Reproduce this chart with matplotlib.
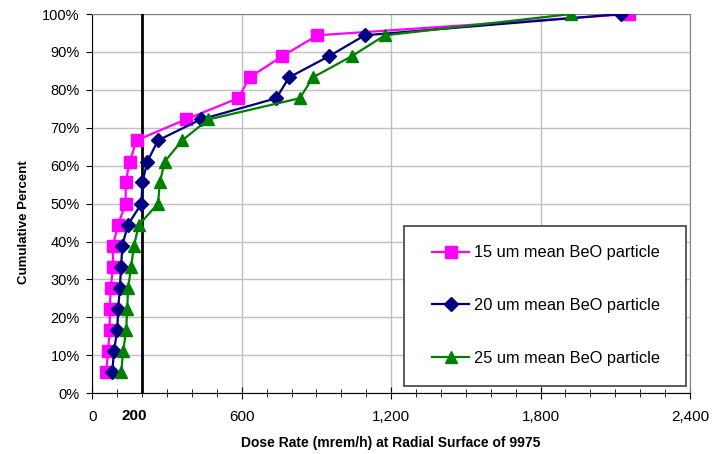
import matplotlib
matplotlib.use('Agg')
import matplotlib.pyplot as plt
from matplotlib.ticker import FuncFormatter, MultipleLocator
from matplotlib.patches import Rectangle
import matplotlib.transforms as mtransforms

plt.rcParams['font.family'] = ['Liberation Sans', 'DejaVu Sans']

# cumulative percent (k/18)
pct = [5.6, 11.1, 16.7, 22.2, 27.8, 33.3, 38.9, 44.4, 50.0,
       55.6, 61.1, 66.7, 72.2, 77.8, 83.3, 88.9, 94.4, 100.0]

# dose rates (mrem/h)
dose_15 = [56, 63, 70, 70, 74, 83, 83, 103, 134,
           134, 150, 178, 375, 586, 632, 763, 904, 2155]
dose_20 = [80, 87, 100, 104, 110, 116, 120, 143, 197,
           201, 221, 264, 435, 739, 790, 951, 1094, 2122]
dose_25 = [116, 124, 136, 140, 144, 156, 167, 187, 264,
           271, 291, 361, 466, 833, 886, 1042, 1175, 1922]

labels = ['15 um mean BeO particle', '20 um mean BeO particle',
          '25 um mean BeO particle']
limit = 200

fig = plt.figure(figsize=(7.27, 4.54), dpi=100)
ax = fig.add_axes([0.127, 0.134, 0.822, 0.835])

frac = [p / 100 for p in pct]
ax.plot(dose_15, frac, color='#FF00FF', marker='s',
        markersize=8, lw=1.6, label=labels[0], zorder=5)
ax.plot(dose_20, frac, color='#000080', marker='D',
        markersize=7, lw=1.6, label=labels[1], zorder=5)
ax.plot(dose_25, frac, color='#008000', marker='^',
        markersize=9, lw=1.6, label=labels[2], zorder=5)

# 200 mrem/h limit line
ax.axvline(limit, color='black', lw=2, zorder=4)

ax.set_xlim(0, 2400)
ax.set_ylim(0, 1.0)
ax.set_xticks([0, 600, 1200, 1800, 2400])
ax.xaxis.set_minor_locator(MultipleLocator(100))
ax.xaxis.set_major_formatter(FuncFormatter(lambda v, p: f'{int(v):,}'))
ax.set_yticks([i / 10 for i in range(11)])
ax.yaxis.set_major_formatter(FuncFormatter(lambda v, p: f'{v:.0%}'))

ax.grid(True, which='major', color='#c0c0c0', lw=1, zorder=0)
ax.set_axisbelow(True)

for s in ['top', 'right']:
    ax.spines[s].set_color('#808080')
for s in ['left', 'bottom']:
    ax.spines[s].set_color('black')

ax.tick_params(axis='x', which='both', direction='inout', labelsize=11,
               pad=8)
ax.tick_params(axis='x', which='major', length=8)
ax.tick_params(axis='x', which='minor', length=6)
ax.tick_params(axis='y', direction='out', labelsize=10.5, length=4, pad=5)

# bold 200 label
trans = mtransforms.blended_transform_factory(ax.transData, ax.transAxes)
ax.text(167, -0.043, '200', transform=trans, ha='center', va='top',
        fontsize=11, fontweight='bold')

ax.set_xlabel('Dose Rate (mrem/h) at Radial Surface of 9975',
              fontsize=10, fontweight='bold', labelpad=9)
ax.set_ylabel('Cumulative Percent', fontsize=9.5, fontweight='bold')
ax.yaxis.set_label_coords(-0.104, 0.451)

# legend frame drawn separately so its size matches
box = Rectangle((0.521, 0.018), 0.472, 0.422, transform=ax.transAxes,
                facecolor='white', edgecolor='#404040', lw=1.2, zorder=6)
ax.add_patch(box)
leg = ax.legend(loc='upper left', bbox_to_anchor=(0.568, 0.390),
                fontsize=11.8, numpoints=1, frameon=False,
                borderpad=0, labelspacing=2.31, handlelength=2.3,
                handletextpad=0.3, borderaxespad=0)
leg.set_zorder(7)

fig.savefig('out.png', dpi=100)
